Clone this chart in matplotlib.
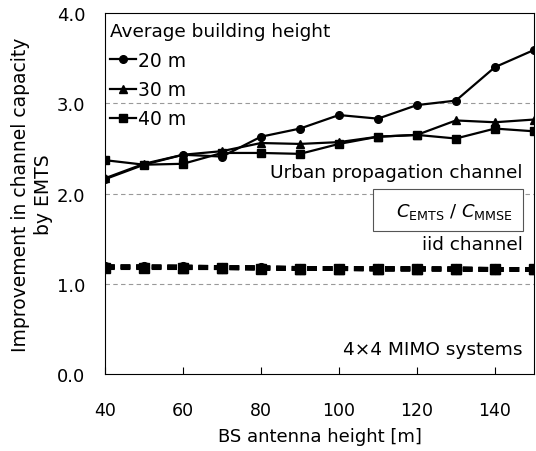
import numpy as np
import matplotlib.pyplot as plt
from matplotlib.patches import Rectangle

# BS antenna height [m]
bs_height = [40, 50, 60, 70, 80, 90, 100, 110, 120, 130, 140, 150]

# urban propagation channel
urban_20 = [2.16, 2.32, 2.43, 2.41, 2.63, 2.72, 2.87, 2.83, 2.98, 3.03, 3.40, 3.59]
urban_30 = [2.17, 2.33, 2.43, 2.47, 2.56, 2.55, 2.57, 2.63, 2.65, 2.81, 2.79, 2.82]
urban_40 = [2.37, 2.32, 2.33, 2.45, 2.45, 2.44, 2.55, 2.63, 2.65, 2.61, 2.72, 2.69]

# iid channel
iid_20 = [1.19, 1.19, 1.19, 1.18, 1.18, 1.17, 1.17, 1.17, 1.17, 1.16, 1.16, 1.16]
iid_30 = [1.19, 1.19, 1.18, 1.18, 1.18, 1.17, 1.17, 1.17, 1.17, 1.17, 1.16, 1.16]
iid_40 = [1.18, 1.18, 1.18, 1.18, 1.17, 1.17, 1.17, 1.16, 1.16, 1.16, 1.16, 1.16]

labels = ["20 m", "30 m", "40 m"]
markers = ["o", "^", "s"]

plt.rcParams['font.family'] = ['DejaVu Sans']
plt.rcParams['font.size'] = 12

fig = plt.figure(figsize=(5.36, 4.52), dpi=100)
ax = fig.add_axes([0.196, 0.170, 0.800, 0.799])

for y, m, lab in zip([urban_20, urban_30, urban_40], markers, labels):
    ax.plot(bs_height, y, color="k", lw=1.6, marker=m, ms=5.5, label=lab)
for y, m in zip([iid_20, iid_30, iid_40], markers):
    ax.plot(bs_height, y, color="k", lw=3.5, ls=(0, (2.0, 1.2)), marker=m, ms=7)

ax.set_xlim(40, 150)
ax.set_ylim(0, 4)
ax.set_xticks([40, 60, 80, 100, 120, 140])
ax.set_yticks([0, 1, 2, 3, 4])
ax.set_yticklabels(["0.0", "1.0", "2.0", "3.0", "4.0"])
ax.tick_params(axis="x", direction="in", length=5, pad=19, labelsize=12.5)
ax.tick_params(axis="y", length=0, pad=14, labelsize=13)
for v in [1, 2, 3]:
    ax.axhline(v, color="#999999", lw=0.8, ls=(0, (4, 3)), zorder=0)

ax.set_xlabel("BS antenna height [m]", labelpad=6, fontsize=13)
ax.set_ylabel("Improvement in channel capacity\nby EMTS", labelpad=3, fontsize=13.5,
              linespacing=1.25)

leg = ax.legend(loc="upper left", title="Average building height", frameon=False,
                handlelength=1.4, handletextpad=0.1, borderaxespad=0.2,
                labelspacing=0.55, fontsize=13.5, title_fontsize=13.3,
                bbox_to_anchor=(-0.015, 1.005))
leg._legend_box.align = "left"

ax.text(0.974, 0.56, "Urban propagation channel", transform=ax.transAxes,
        ha="right", va="center", fontsize=13.3)
ax.add_patch(Rectangle((0.625, 0.396), 0.349, 0.116, transform=ax.transAxes,
                       fc="white", ec="#555555", lw=0.8, zorder=3))
ax.text(0.951, 0.452, r"$C_{\mathrm{EMTS}}$ / $C_{\mathrm{MMSE}}$", transform=ax.transAxes,
        ha="right", va="center", fontsize=13, zorder=4)
ax.text(0.974, 0.36, "iid channel", transform=ax.transAxes,
        ha="right", va="center", fontsize=13.3)
ax.text(0.974, 0.069, "4×4 MIMO systems", transform=ax.transAxes,
        ha="right", va="center", fontsize=13.3)

fig.savefig("out.png", dpi=100)
